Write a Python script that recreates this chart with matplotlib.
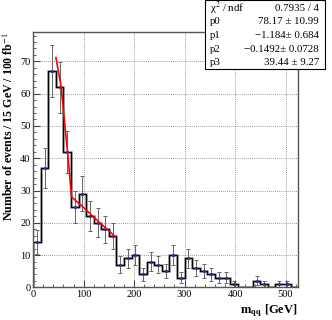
import numpy as np
import matplotlib
matplotlib.use("Agg")
import matplotlib.pyplot as plt
from matplotlib.ticker import MultipleLocator

bin_width = 15
counts = [14, 37, 67, 62, 42, 25, 29, 22, 20, 18, 16, 7, 9, 10, 4, 8, 7, 5, 10, 3,
          9, 6, 5, 4, 3, 3, 1, 0, 0, 2, 1, 0, 1, 1, 0]
fit_x = [45, 55, 68, 76, 100, 130, 162]
fit_y = [71.2, 62.5, 42, 28, 24.7, 20.3, 15.8]
stats_names = ["χ$^2$ / ndf", "p0", "p1", "p2", "p3"]
stats_vals = ["0.7935 / 4", "78.17 ± 10.99", "−1.184± 0.684", "−0.1492± 0.0728", "39.44 ± 9.27"]

plt.rcParams['font.family'] = ['Liberation Serif', 'DejaVu Serif']
plt.rcParams['mathtext.fontset'] = 'stix'

counts = np.array(counts, dtype=float)
edges = np.arange(len(counts) + 1) * bin_width
centers = edges[:-1] + bin_width / 2
errs = np.sqrt(counts)

fig = plt.figure(figsize=(3.32, 3.20), dpi=100)
ax = fig.add_axes([0.100, 0.102, 0.798, 0.797])

ax.grid(True, color='#777777', linestyle=(0, (1, 1.5)), linewidth=0.6)
ax.set_axisbelow(True)

ax.stairs(counts, edges, color='#999999', linewidth=1.8)
ax.stairs(counts, edges, color='black', linewidth=0.9)
mask = counts > 0
ax.errorbar(centers[mask], counts[mask], yerr=errs[mask], fmt='none',
            ecolor='#666666', elinewidth=0.7, capsize=1.3, capthick=0.7)
ax.plot(centers[mask], counts[mask], 's', color='#2233aa', markersize=1.1)
ax.plot(fit_x, fit_y, color='red', linewidth=1.2)

ax.set_xlim(0, edges[-1])
ax.set_ylim(0, 79)
ax.xaxis.set_major_locator(MultipleLocator(100))
ax.xaxis.set_minor_locator(MultipleLocator(20))
ax.yaxis.set_major_locator(MultipleLocator(10))
ax.yaxis.set_minor_locator(MultipleLocator(2))
ax.tick_params(which='both', direction='in', top=False, right=False,
               labelsize=7.5, pad=2, color='#444444')
ax.tick_params(which='major', length=5)
ax.tick_params(which='minor', length=2.5)
for s in ax.spines.values():
    s.set_color('#555555')
    s.set_linewidth(1.0)

ax.set_ylabel("Number of events / 15 GeV / 100 fb$^{-1}$", fontsize=8.6,
              fontweight='bold', loc='top', labelpad=3)
ax.set_xlabel("m$_{\\mathbf{qq}}$ [GeV]", fontsize=9, fontweight='bold',
              loc='right', labelpad=2)

# stats box
bx0, by0, bw, bh = 0.617, 0.784, 0.362, 0.216
fig.patches.append(plt.Rectangle((bx0, by0), bw, bh, transform=fig.transFigure,
                                 facecolor='white', edgecolor='black', linewidth=0.8,
                                 zorder=5))
row_y = [8.5, 22, 35.5, 49, 62.5]
for name, val, ry in zip(stats_names, stats_vals, row_y):
    yy = 1 - ry / 320
    fig.text(210 / 332, yy, name, fontsize=7.8, ha='left', va='center', zorder=6)
    fig.text(319 / 332, yy, val, fontsize=7.8, ha='right', va='center', zorder=6)

fig.savefig("out.png", dpi=100)
